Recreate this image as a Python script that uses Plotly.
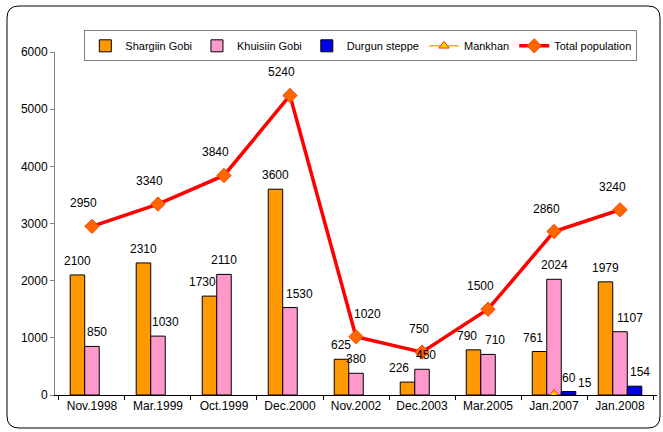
import plotly.graph_objects as go

categories = ["Nov.1998", "Mar.1999", "Oct.1999", "Dec.2000", "Nov.2002",
              "Dec.2003", "Mar.2005", "Jan.2007", "Jan.2008"]
shargiin = [2100, 2310, 1730, 3600, 625, 226, 790, 761, 1979]
khuisiin = [850, 1030, 2110, 1530, 380, 450, 710, 2024, 1107]
durgun = [None, None, None, None, None, None, None, 60, 154]
mankhan = [None, None, None, None, None, None, None, 15, None]
total = [2950, 3340, 3840, 5240, 1020, 750, 1500, 2860, 3240]
y_ticks = [0, 1000, 2000, 3000, 4000, 5000, 6000]

# layout geometry (pixels)
W, H = 663, 432
ML, MR, MT, MB = 55, 6, 52, 37
PW, PH = W - ML - MR, H - MT - MB
BAR_PX = PW / len(categories) * (1 - 0.34) / 3

FONT = "Arial, Liberation Sans, sans-serif"

fig = go.Figure()
fig.add_trace(go.Bar(name="Shargiin Gobi", x=categories, y=shargiin,
                     marker=dict(color="#FF9900", line=dict(color="#000000", width=1))))
fig.add_trace(go.Bar(name="Khuisiin Gobi", x=categories, y=khuisiin,
                     marker=dict(color="#FF99CC", line=dict(color="#000000", width=1))))
fig.add_trace(go.Bar(name="Durgun steppe", x=categories, y=durgun,
                     marker=dict(color="#0000EE", line=dict(color="#000000", width=1))))
fig.add_trace(go.Scatter(name="Mankhan", x=categories, y=mankhan, mode="lines+markers",
                         line=dict(color="#FF9900", width=1.2),
                         marker=dict(symbol="triangle-up", size=9, color="#FFCC00",
                                     line=dict(color="#FF3300", width=1))))
fig.add_trace(go.Scatter(name="Total population", x=categories, y=total, mode="lines+markers",
                         line=dict(color="#FF0000", width=3.5),
                         marker=dict(symbol="diamond", size=11, color="#FF6600",
                                     line=dict(color="#FF4400", width=1))))

# extra label nudges (pixels) per series, index -> dx
nudge_sh = {2: -7, 5: -8, 6: -6, 7: -6}
nudge_kh = {0: 5, 1: 8, 3: 10, 5: 4, 6: 7, 8: 10}
nudge_du = {8: 5}

ann = []
def add_bar_labels(vals, slot, nudge):
    for i, (c, v) in enumerate(zip(categories, vals)):
        if v is None:
            continue
        ann.append(dict(x=c, y=v, text=str(v), showarrow=False, xref="x", yref="y",
                        xanchor="center", yanchor="bottom",
                        xshift=slot * BAR_PX + nudge.get(i, 0), yshift=5,
                        font=dict(family=FONT, size=12, color="#000000")))

add_bar_labels(shargiin, -1, nudge_sh)
add_bar_labels(khuisiin, 0, nudge_kh)
add_bar_labels(durgun, 1, nudge_du)

nudge_tot = {4: 19, 5: 5}
for i, (c, v) in enumerate(zip(categories, total)):
    ann.append(dict(x=c, y=v, text=str(v), showarrow=False, xref="x", yref="y",
                    xanchor="center", yanchor="middle",
                    xshift=-8 + nudge_tot.get(i, 0), yshift=23,
                    font=dict(family=FONT, size=12, color="#000000")))
for c, v in zip(categories, mankhan):
    if v is None:
        continue
    ann.append(dict(x=c, y=v, text=str(v), showarrow=False, xref="x", yref="y",
                    xanchor="center", yanchor="middle", xshift=31, yshift=11,
                    font=dict(family=FONT, size=12, color="#000000")))

# rounded outer border (pixels -> paper)
def px(x):
    return (x - ML) / PW
def py(y):
    return (H - MB - y) / PH
L, R, T, B, r = 7, 660, 6, 428, 12
path = (f"M {px(L + r)},{py(T)} L {px(R - r)},{py(T)} Q {px(R)},{py(T)} {px(R)},{py(T + r)} "
        f"L {px(R)},{py(B - r)} Q {px(R)},{py(B)} {px(R - r)},{py(B)} "
        f"L {px(L + r)},{py(B)} Q {px(L)},{py(B)} {px(L)},{py(B - r)} "
        f"L {px(L)},{py(T + r)} Q {px(L)},{py(T)} {px(L + r)},{py(T)} Z")

fig.update_layout(
    width=W, height=H,
    margin=dict(l=ML, r=MR, t=MT, b=MB, autoexpand=False),
    paper_bgcolor="white", plot_bgcolor="white",
    font=dict(family=FONT, size=12, color="#000000"),
    barmode="group", bargap=0.34, bargroupgap=0,
    showlegend=True,
    legend=dict(orientation="h", x=0.508, y=1.018, xanchor="center", yanchor="middle",
                bgcolor="white", bordercolor="#808080", borderwidth=1,
                font=dict(family=FONT, size=11, color="#000000"),
                traceorder="normal", itemwidth=30, tracegroupgap=0),
    xaxis=dict(type="category", showgrid=False, zeroline=False, automargin=False,
               showline=True, linecolor="#000000", linewidth=1,
               ticks="outside", ticklen=4, tickcolor="#000000", tickson="boundaries",
               tickfont=dict(family=FONT, size=12, color="#000000")),
    yaxis=dict(range=[0, 6000], tickvals=y_ticks, showgrid=False, zeroline=False,
               automargin=False,
               showline=True, linecolor="#808080", linewidth=1,
               ticks="outside", ticklen=4, tickcolor="#808080",
               tickfont=dict(family=FONT, size=12, color="#000000")),
    xaxis2=dict(overlaying="x", anchor="y", range=[-0.5, len(categories) - 0.5],
                tickvals=[i - 0.5 for i in range(len(categories) + 1)],
                ticks="inside", ticklen=4, tickcolor="#000000", automargin=False,
                showticklabels=False, showgrid=False, zeroline=False, showline=False),
    yaxis2=dict(overlaying="y", anchor="x", range=[0, 6000], tickvals=y_ticks,
                ticks="inside", ticklen=4, tickcolor="#808080", automargin=False,
                showticklabels=False, showgrid=False, zeroline=False, showline=False),
    annotations=ann,
    shapes=[dict(type="path", path=path, xref="paper", yref="paper",
                 line=dict(color="#000000", width=1), layer="below")],
)

fig.write_html("out.html", config={"displayModeBar": False},
               post_script="document.body.style.margin='0';document.body.style.overflow='hidden';")
